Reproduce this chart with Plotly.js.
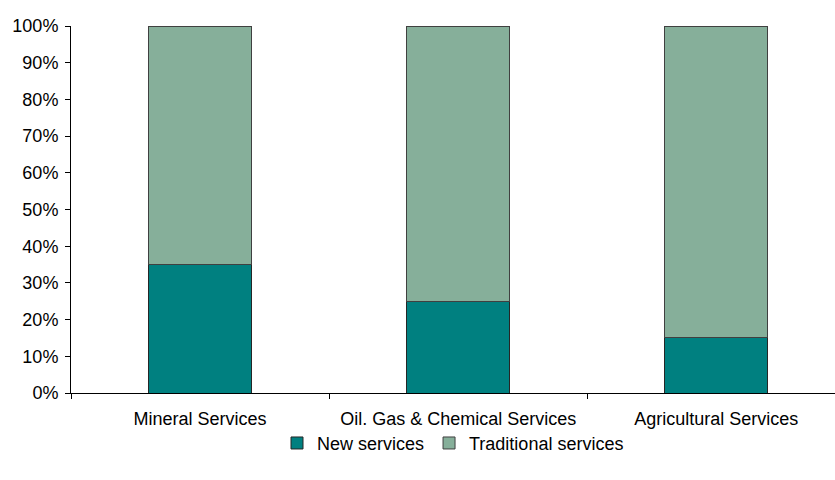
<!DOCTYPE html>
<html>
<head>
<meta charset="utf-8">
<script src="https://cdn.plot.ly/plotly-3.0.1.min.js"></script>
<style>html,body{margin:0;padding:0;background:#fff;}#chart{width:835px;height:480px;}</style>
</head>
<body>
<div id="chart"></div>
<script>
var categories = ["Mineral Services", "Oil, Gas & Chemical Services", "Agricultural Services"];
var newServices = [35, 25, 15];
var traditionalServices = [65, 75, 85];
var yTickVals = [0, 10, 20, 30, 40, 50, 60, 70, 80, 90, 100];
var yTickText = ["0%", "10%", "20%", "30%", "40%", "50%", "60%", "70%", "80%", "90%", "100%"];

var traces = [
  {
    type: "bar", name: "New services", x: categories, y: newServices,
    marker: {color: "#008080", line: {color: "#262626", width: 1}}
  },
  {
    type: "bar", name: "Traditional services", x: categories, y: traditionalServices,
    marker: {color: "#86AF9A", line: {color: "#404040", width: 1}}
  }
];

var layout = {
  width: 835, height: 480,
  barmode: "stack",
  bargap: 0.6,
  margin: {l: 71, r: 0, t: 26, b: 87},
  paper_bgcolor: "#fff", plot_bgcolor: "#fff",
  font: {family: "Liberation Sans, Arial, sans-serif", size: 18, color: "#000"},
  xaxis: {
    type: "category",
    range: [-0.5, 2.46],
    showline: true, linecolor: "#000", linewidth: 1,
    ticks: "outside", ticklen: 5, tickcolor: "#000", tickson: "boundaries",
    ticklabelstandoff: 9,
    showgrid: false, zeroline: false, fixedrange: true
  },
  yaxis: {
    range: [0, 100],
    tickvals: yTickVals, ticktext: yTickText,
    showline: true, linecolor: "#000", linewidth: 1,
    ticks: "outside", ticklen: 5, tickcolor: "#000",
    ticklabelstandoff: 3,
    showgrid: false, zeroline: false, fixedrange: true
  },
  showlegend: true,
  legend: {
    orientation: "h", x: 0.5, xanchor: "center", y: -0.137, yanchor: "middle",
    font: {size: 18}, traceorder: "normal", itemwidth: 30
  }
};

Plotly.newPlot("chart", traces, layout, {displayModeBar: false, staticPlot: true});
</script>
</body>
</html>
